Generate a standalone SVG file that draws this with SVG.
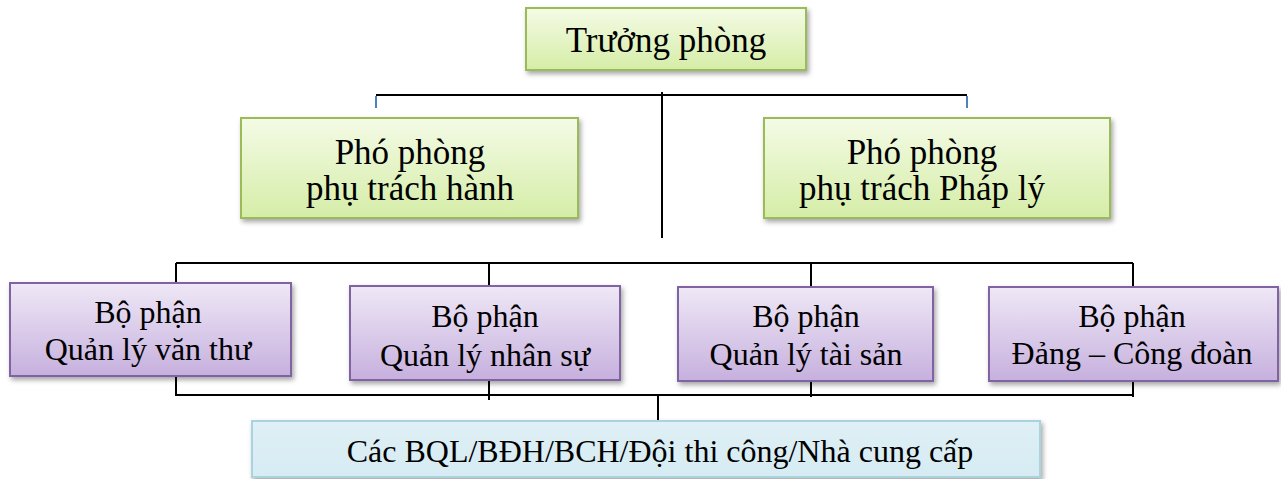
<svg xmlns="http://www.w3.org/2000/svg" width="1281" height="479" viewBox="0 0 1281 479">
<defs>
<linearGradient id="gG" x1="0" y1="0" x2="0" y2="1"><stop offset="0" stop-color="#f4fbe6"/><stop offset="1" stop-color="#d5eda7"/></linearGradient>
<linearGradient id="gP" x1="0" y1="0" x2="0" y2="1"><stop offset="0" stop-color="#efe8f6"/><stop offset="1" stop-color="#c6b0de"/></linearGradient>
<linearGradient id="gB" x1="0" y1="0" x2="0" y2="1"><stop offset="0" stop-color="#dff0f6"/><stop offset="1" stop-color="#d6ebf2"/></linearGradient>
<filter id="sh" x="-10%" y="-20%" width="120%" height="150%"><feDropShadow dx="2" dy="3" stdDeviation="2.5" flood-color="#000" flood-opacity="0.35"/></filter>
</defs>
<style>
.g{fill:url(#gG);stroke:#9bbb59;stroke-width:2;filter:url(#sh)}
.p{fill:url(#gP);stroke:#8064a2;stroke-width:2;filter:url(#sh)}
.b{fill:url(#gB);stroke:#a8d3df;stroke-width:2;filter:url(#sh)}
text{font-family:"Liberation Serif","Times New Roman",serif;fill:#000;text-anchor:middle}
.t1{font-size:35px}
.t2{font-size:35px}
.t3{font-size:32px}
.t4{font-size:32px}
.c{stroke:#000;stroke-width:2;fill:none}
.tick{stroke:#4f81bd;stroke-width:2}
</style>
<g id="connectors">
<path class="c" d="M376 95 H967 M662 92 V238"/>
<path class="tick" d="M376 96 V108 M967 96 V108"/>
<path class="c" d="M176 263 H1133 M176 263 V284 M489 263 V287 M811 263 V288 M1133 263 V288"/>
<path class="c" d="M176 370 V395 H1133 M489 370 V400 M811 370 V397 M1133 370 V397 M658 395 V421"/>
</g>
<g id="truong-phong"><rect class="g" x="526" y="8" width="280" height="62"/><text class="t1" x="666" y="52">Trưởng phòng</text></g>
<g id="pho-phong-1"><rect class="g" x="241" y="118" width="337" height="100"/><text class="t2" x="410" y="164">Phó phòng</text><text class="t2" x="410" y="200">phụ trách hành</text></g>
<g id="pho-phong-2"><rect class="g" x="764" y="118" width="346" height="100"/><text class="t2" x="922" y="164">Phó phòng</text><text class="t2" x="922" y="200">phụ trách Pháp lý</text></g>
<g id="bp-van-thu"><rect class="p" x="10" y="283" width="281" height="93"/><text class="t3" x="148" y="323">Bộ phận</text><text class="t3" x="148" y="360">Quản lý văn thư</text></g>
<g id="bp-nhan-su"><rect class="p" x="350" y="286" width="270" height="94"/><text class="t3" x="485" y="327">Bộ phận</text><text class="t3" x="485" y="366">Quản lý nhân sự</text></g>
<g id="bp-tai-san"><rect class="p" x="678" y="287" width="255" height="94"/><text class="t3" x="806" y="327">Bộ phận</text><text class="t3" x="806" y="365">Quản lý tài sản</text></g>
<g id="bp-dang"><rect class="p" x="989" y="287" width="289" height="94"/><text class="t3" x="1132" y="327">Bộ phận</text><text class="t3" x="1132" y="364">Đảng – Công đoàn</text></g>
<g id="cac-bql"><rect class="b" x="252" y="421" width="788" height="56"/><text class="t4" x="660" y="462">Các BQL/BĐH/BCH/Đội thi công/Nhà cung cấp</text></g>
</svg>
